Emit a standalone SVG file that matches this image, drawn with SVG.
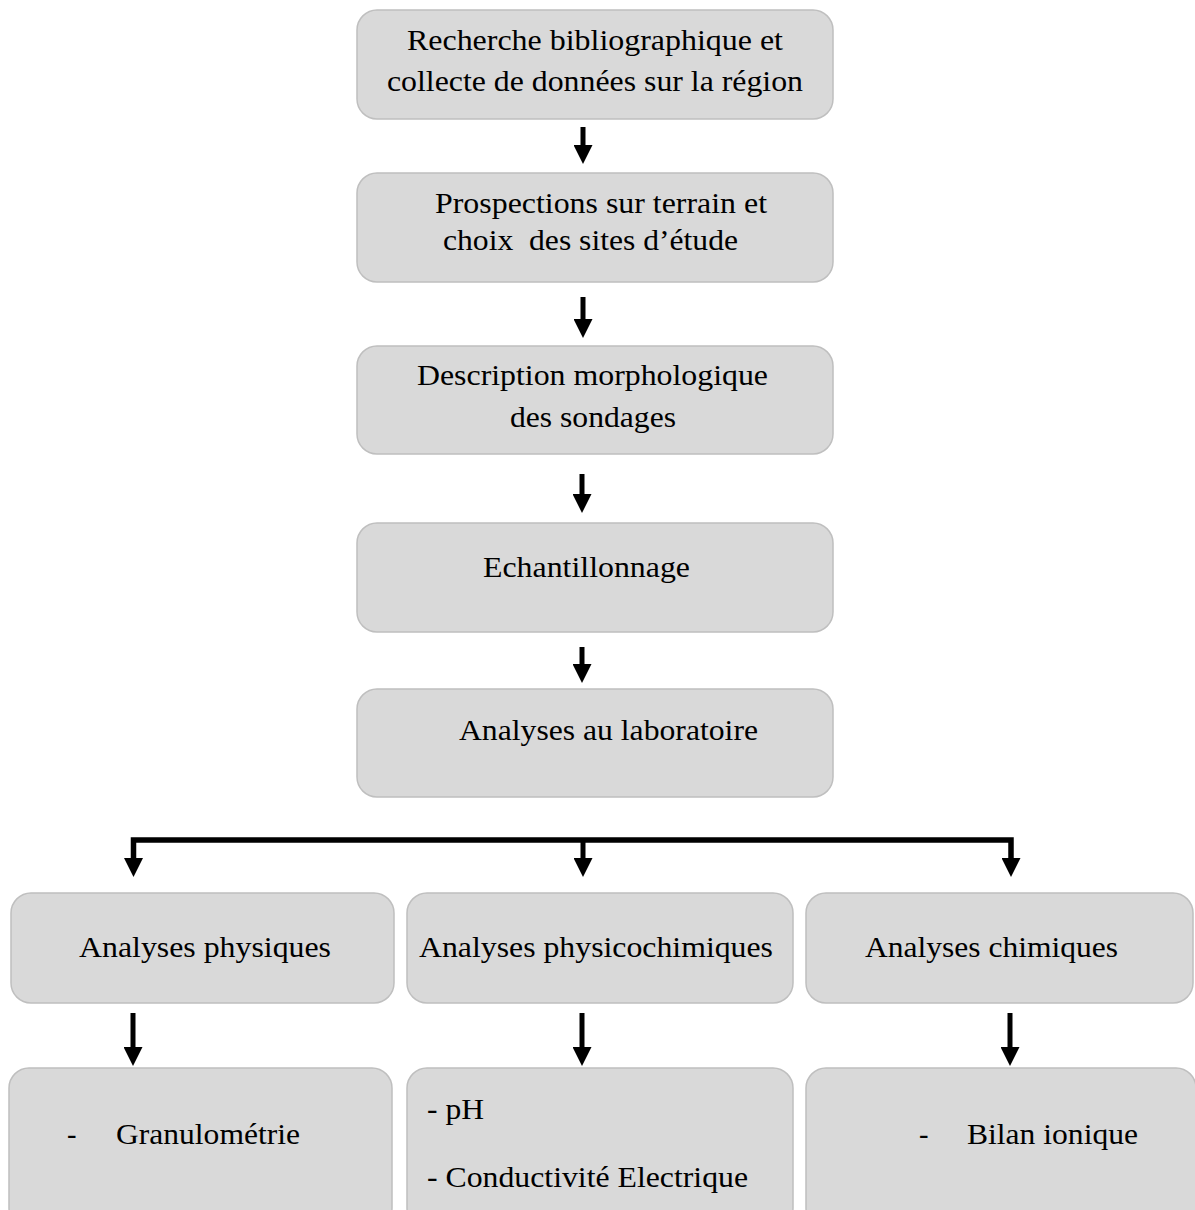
<svg xmlns="http://www.w3.org/2000/svg" width="1195" height="1210" viewBox="0 0 1195 1210">
  <style>
    .box { fill: #d9d9d9; stroke: #bfbfbf; stroke-width: 1.5; }
    .t { font-size: 28.5px; fill: #000; }
    .c { fill: none; stroke: #000; stroke-width: 5; stroke-linejoin: miter; }
  </style>
  <defs>
    <marker id="ah" viewBox="0 0 19 19" markerWidth="19" markerHeight="19" markerUnits="userSpaceOnUse" refX="0.5" refY="9.5" orient="auto">
      <path d="M0,0 L19,9.5 L0,19 Z" fill="#000"/>
    </marker>
  </defs>
  <rect width="1195" height="1210" fill="#fff"/>

  <g font-family="Times New Roman, Liberation Serif, serif">
  <g id="n1">
    <rect class="box" x="357" y="10" width="476" height="109" rx="20"/>
    <text class="t" x="407" y="50" textLength="376" lengthAdjust="spacingAndGlyphs">Recherche bibliographique et</text>
    <text class="t" x="387" y="91" textLength="416" lengthAdjust="spacingAndGlyphs">collecte de données sur la région</text>
  </g>
  <g id="n2">
    <rect class="box" x="357" y="173" width="476" height="109" rx="20"/>
    <text class="t" x="435" y="213" textLength="332" lengthAdjust="spacingAndGlyphs">Prospections sur terrain et</text>
    <text class="t" x="443" y="250" textLength="295" lengthAdjust="spacingAndGlyphs" xml:space="preserve">choix  des sites d’étude</text>
  </g>
  <g id="n3">
    <rect class="box" x="357" y="346" width="476" height="108" rx="20"/>
    <text class="t" x="417" y="385" textLength="351" lengthAdjust="spacingAndGlyphs">Description morphologique</text>
    <text class="t" x="510" y="427" textLength="166" lengthAdjust="spacingAndGlyphs">des sondages</text>
  </g>
  <g id="n4">
    <rect class="box" x="357" y="523" width="476" height="109" rx="20"/>
    <text class="t" x="483" y="577" textLength="207" lengthAdjust="spacingAndGlyphs">Echantillonnage</text>
  </g>
  <g id="n5">
    <rect class="box" x="357" y="689" width="476" height="108" rx="20"/>
    <text class="t" x="459" y="740" textLength="299" lengthAdjust="spacingAndGlyphs">Analyses au laboratoire</text>
  </g>

  <g id="n6">
    <rect class="box" x="11" y="893" width="383" height="110" rx="20"/>
    <text class="t" x="79" y="957" textLength="252" lengthAdjust="spacingAndGlyphs">Analyses physiques</text>
  </g>
  <g id="n7">
    <rect class="box" x="407" y="893" width="386" height="110" rx="20"/>
    <text class="t" x="419" y="957" textLength="354" lengthAdjust="spacingAndGlyphs">Analyses physicochimiques</text>
  </g>
  <g id="n8">
    <rect class="box" x="806" y="893" width="387" height="110" rx="20"/>
    <text class="t" x="865" y="957" textLength="253" lengthAdjust="spacingAndGlyphs">Analyses chimiques</text>
  </g>

  <g id="n9">
    <rect class="box" x="9" y="1068" width="383" height="160" rx="20"/>
    <text class="t" x="67" y="1144">-</text>
    <text class="t" x="116" y="1144" textLength="184" lengthAdjust="spacingAndGlyphs">Granulométrie</text>
  </g>
  <g id="n10">
    <rect class="box" x="407" y="1068" width="386" height="160" rx="20"/>
    <text class="t" x="427" y="1119" textLength="57" lengthAdjust="spacingAndGlyphs">- pH</text>
    <text class="t" x="427" y="1187" textLength="321" lengthAdjust="spacingAndGlyphs">- Conductivité Electrique</text>
  </g>
  <g id="n11">
    <rect class="box" x="806" y="1068" width="390" height="160" rx="20"/>
    <text class="t" x="919" y="1144">-</text>
    <text class="t" x="967" y="1144" textLength="171" lengthAdjust="spacingAndGlyphs">Bilan ionique</text>
  </g>
  </g>

  <g id="connectors">
    <path class="c" d="M583,127 V145.5" marker-end="url(#ah)"/>
    <path class="c" d="M583,297 V319.5" marker-end="url(#ah)"/>
    <path class="c" d="M582,474 V494.5" marker-end="url(#ah)"/>
    <path class="c" d="M582,647 V664.5" marker-end="url(#ah)"/>
    <path class="c" d="M133.5,858.5 V840 H1011 V858.5" marker-end="url(#ah)" style="stroke-width:5.5"/>
    <path class="c" d="M133.5,845 V858.5" marker-end="url(#ah)"/>
    <path class="c" d="M583,840 V858.5" marker-end="url(#ah)"/>
    <path class="c" d="M133,1013 V1047.5" marker-end="url(#ah)"/>
    <path class="c" d="M582,1013 V1047.5" marker-end="url(#ah)"/>
    <path class="c" d="M1010,1013 V1047.5" marker-end="url(#ah)"/>
  </g>
</svg>
